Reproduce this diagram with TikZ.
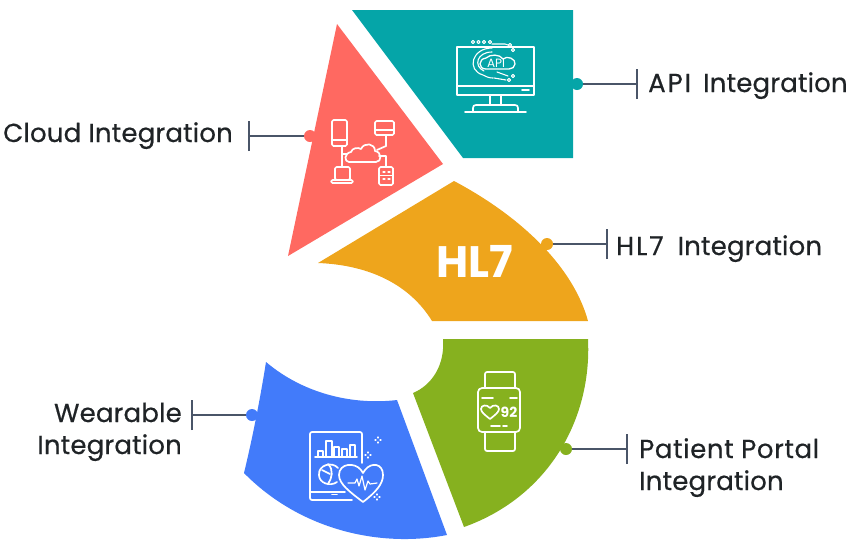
\documentclass[tikz,border=0pt]{standalone}
\usepackage{fontspec}
\setmainfont{Poppins}
\newfontfamily\labelfont[LetterSpace=0.7, RawFeature={embolden=0.5}]{Poppins}
\newfontfamily\widefont[LetterSpace=2.4, RawFeature={embolden=0.5}]{Poppins}
\newfontfamily\capfont[LetterSpace=7.5, RawFeature={embolden=0.5}]{Poppins}
\usetikzlibrary{positioning}
\definecolor{tealblock}{HTML}{05A5A8}
\definecolor{redblock}{HTML}{FF6961}
\definecolor{orangeblock}{HTML}{EEA51C}
\definecolor{greenblock}{HTML}{86B11F}
\definecolor{blueblock}{HTML}{427BFA}
\definecolor{leadergray}{HTML}{4A5568}
\definecolor{labelblack}{HTML}{1F2326}
\tikzset{
  leader/.style={draw=leadergray, line width=1.2pt},
  dotnode/.style={circle, minimum size=12pt, inner sep=0pt},
  icon/.style={draw=white, line width=1.7pt, line join=round, line cap=round},
  iconrect/.style={icon, rounded corners=1.5pt},
  biglabel/.style={anchor=base west, inner sep=0pt, text=labelblack, font=\labelfont\fontsize{26}{30}\selectfont},
  biglabelr/.style={biglabel, anchor=base east}
}
\begin{document}
\begin{tikzpicture}[x=1pt, y=-1pt]
\useasboundingbox (0,0) rectangle (850,550);

% blocks
\fill[tealblock] (352,10) -- (573,10) -- (573,158) -- (463,158) -- cycle;
\fill[redblock] (337,24) -- (443,164) -- (288,256) -- cycle;
\fill[orangeblock] (454,181) .. controls (520,216) and (573,266) .. (588,321) -- (432,321) .. controls (410,285) and (370,265) .. (318,263) -- cycle;
\fill[greenblock] (443,339) -- (588,339) .. controls (592,420) and (548,497) .. (464,527) -- (413,393) .. controls (432,385) and (445,365) .. (443,339) -- cycle;
\fill[blueblock] (266,362) .. controls (305,395) and (355,405) .. (397,400) -- (447,535) .. controls (380,548) and (300,530) .. (244,473) .. controls (252,440) and (260,400) .. (266,362) -- cycle;

% leaders
\node[dotnode, fill=tealblock] (apidot) at (577,84) {};
\coordinate (apitick) at (637,84);
\draw[leader] (apidot) -- (apitick);
\draw[leader] ([yshift=-15pt]apitick) -- ([yshift=15pt]apitick);
\node[dotnode, fill=redblock] (clouddot) at (310,136) {};
\coordinate (cloudtick) at (249,136);
\draw[leader] (clouddot) -- (cloudtick);
\draw[leader] ([yshift=-15pt]cloudtick) -- ([yshift=15pt]cloudtick);
\node[dotnode, fill=orangeblock] (hldot) at (547,244) {};
\coordinate (hltick) at (607,244);
\draw[leader] (hldot) -- (hltick);
\draw[leader] ([yshift=-15pt]hltick) -- ([yshift=15pt]hltick);
\node[dotnode, fill=blueblock] (weardot) at (252,415) {};
\coordinate (weartick) at (192,415);
\draw[leader] (weardot) -- (weartick);
\draw[leader] ([yshift=-15pt]weartick) -- ([yshift=15pt]weartick);
\node[dotnode, fill=greenblock] (patientdot) at (566,449) {};
\coordinate (patienttick) at (627,449);
\draw[leader] (patientdot) -- (patienttick);
\draw[leader] ([yshift=-15pt]patienttick) -- ([yshift=15pt]patienttick);

% labels
\node[biglabel] (apilabel) at (648,92) {{\capfont API}\hspace{5pt} Integration};
\node[biglabel] (cloudlabel) at (3,142) {Cloud Integration};
\node[biglabel] (hllabel) at (616,255) {{\capfont HL7}\hspace{7pt} Integration};
\node[biglabelr] (wearlabel) at (182,422) {Wearable};
\node[biglabelr] (wearlabelb) at (182,454) {Integration};
\node[biglabel] (patientlabel) at (639,458) {{\widefont Patient Portal}};
\node[biglabel] (patientlabelb) at (639,490) {Integration};
\node[anchor=base, inner sep=0pt, text=white, font=\bfseries\fontsize{44}{48}\selectfont] (hlname) at (475,277) {HL7};

% api icon
\draw[icon] (457,47) rectangle (534,95);
\draw[icon] (457,86) -- (534,86);
\draw[icon] (522,90) -- (529,90);
\draw[icon] (490,95) -- (490,105);
\draw[icon] (501,95) -- (501,105);
\draw[icon] (473,112) -- (473,108) .. controls (473,106) and (474,105) .. (476,105) -- (515,105) .. controls (517,105) and (518,106) .. (518,108) -- (518,112);
\draw[icon] (465,112) -- (526,112);
\draw[icon, line width=1.3pt] (486,69) .. controls (478,69) and (478,59) .. (486,58) .. controls (490,54) and (500,54) .. (503,59) .. controls (507,55) and (516,59) .. (515,64) .. controls (515,67) and (512,69) .. (509,69) -- cycle;
\draw[icon, line width=1.1pt] (492,48) .. controls (472,48) and (466,70) .. (483,75) .. controls (487,77) and (489,78) .. (493,78);
\draw[icon, line width=1.1pt] (492,52) .. controls (477,52) and (473,66) .. (484,71);
\draw[icon, line width=1.1pt] (492,44) -- (505,44) -- (508,45);
\draw[icon, line width=1.1pt] (497,72) -- (508,76);
\draw[icon, line width=1.1pt] (494,78) -- (506,80);
\draw[icon, line width=1pt] (473,42) circle (1.6pt);
\draw[icon, line width=1pt] (478.500,42) circle (1.6pt);
\draw[icon, line width=1pt] (484,42) circle (1.6pt);
\draw[icon, line width=1pt] (490,42) circle (1.6pt);
\draw[icon, line width=1pt] (510,45) circle (1.6pt);
\draw[icon, line width=1pt] (513,50) circle (1.6pt);
\draw[icon, line width=1pt] (513,76) circle (1.6pt);
\draw[icon, line width=1pt] (509,80) circle (1.6pt);
\node[anchor=base, inner sep=0pt, text=white, font=\fontsize{12}{13}\selectfont] (apiword) at (496,67.500) {API};

% cloud icon
\draw[iconrect] (332,120) rectangle (347,146);
\draw[icon] (332,140) -- (347,140);
\draw[iconrect] (375,121) rectangle (394,135);
\draw[icon] (375,130) -- (394,130);
\draw[icon] (386,135) -- (386,146);
\draw[icon] (386,146) -- (377,150);
\draw[icon] (349,162) .. controls (344,162) and (344,153) .. (351,152) .. controls (352,148) and (358,147) .. (361,149) .. controls (364,142) and (375,143) .. (375,151) .. controls (382,152) and (382,162) .. (376,162) -- cycle;
\draw[icon] (342,146) -- (342,167);
\draw[icon] (342,154) -- (347,154);
\draw[icon] (386,167) -- (386,156) -- (379,156);
\draw[iconrect] (335,167) -- (350,167) -- (350,180) -- (335,180) -- cycle;
\draw[iconrect] (331,180) rectangle (353,183);
\draw[iconrect] (379,167) rectangle (393,185);
\draw[icon, line width=1.2pt] (383,172) -- (385,172);
\draw[icon, line width=1.2pt] (388,172) -- (390,172);
\draw[icon, line width=1.2pt] (383,179) -- (385,179);
\draw[icon, line width=1.2pt] (388,179) -- (390,179);
\draw[icon, line width=1.2pt] (379,175.500) -- (393,175.500);

% wearable icon
\draw[icon, rounded corners=2pt] (362,463) -- (362,432) -- (310,432) -- (310,500) -- (352,500);
\draw[icon] (310,492) -- (345,492);
\draw[icon] (332,494.500) -- (337,494.500);
\draw[icon] (315,457) -- (357,457);
\draw[icon] (318,457) -- (318,451) -- (323,451) -- (323,457);
\draw[icon] (326,457) -- (326,441) -- (332,441) -- (332,457);
\draw[icon] (334,457) -- (334,447) -- (339,447) -- (339,457);
\draw[icon] (342,457) -- (342,449) -- (347,449) -- (347,457);
\draw[icon] (350,457) -- (350,445) -- (355,445) -- (355,457);
\draw[icon] (338,468) .. controls (332,461) and (318,465) .. (319,475) .. controls (319,483) and (330,487) .. (337,482);
\draw[icon] (328,464) .. controls (334,470) and (332,478) .. (328,484);
\draw[icon] (322,470) -- (330,474);
\draw[icon] (363,502) .. controls (350,492) and (339,484) .. (339,475) .. controls (339,463) and (355,462) .. (361,470) -- (363,473) -- (365,470) .. controls (371,462) and (383,463) .. (383,475) .. controls (383,484) and (376,492) .. (363,502) -- cycle;
\draw[icon, line width=1.2pt] (348,483) -- (355,483) -- (357,479) -- (359,486) -- (362,476) -- (365,490) -- (368,481) -- (370,484) -- (377,483);
\draw[icon, line width=1.2pt] (378,437) -- (378,438) (378,442) -- (378,443) (375,440) -- (376,440) (380,440) -- (381,440);
\draw[icon, line width=1.2pt] (368,452) -- (368,453) (368,457) -- (368,458) (365,455) -- (366,455) (370,455) -- (371,455);
\draw[icon, line width=1.2pt] (377,494) -- (377,495) (377,499) -- (377,500) (374,497) -- (375,497) (379,497) -- (380,497);

% watch icon
\draw[icon, rounded corners=2pt] (485,388) -- (485,372) -- (515,372) -- (515,388);
\draw[icon, rounded corners=2pt] (485,432) -- (485,451) -- (515,451) -- (515,432);
\draw[icon, rounded corners=4pt] (478,388) rectangle (520,432);
\draw[icon] (482,398) -- (493,398);
\draw[icon] (510,398) -- (517,398);
\draw[icon] (491,426) -- (500,426);
\draw[icon] (503,426) -- (507,426);
\draw[icon] (490,419) .. controls (485,415) and (481,412) .. (481,409) .. controls (481,405) and (487,404) .. (490,408) .. controls (493,404) and (499,405) .. (499,409) .. controls (499,412) and (495,415) .. (490,419) -- cycle;
\node[anchor=base west, inner sep=0pt, text=white, font=\bfseries\fontsize{14}{15}\selectfont] (watchword) at (500.500,417) {92};

\end{tikzpicture}
\end{document}
